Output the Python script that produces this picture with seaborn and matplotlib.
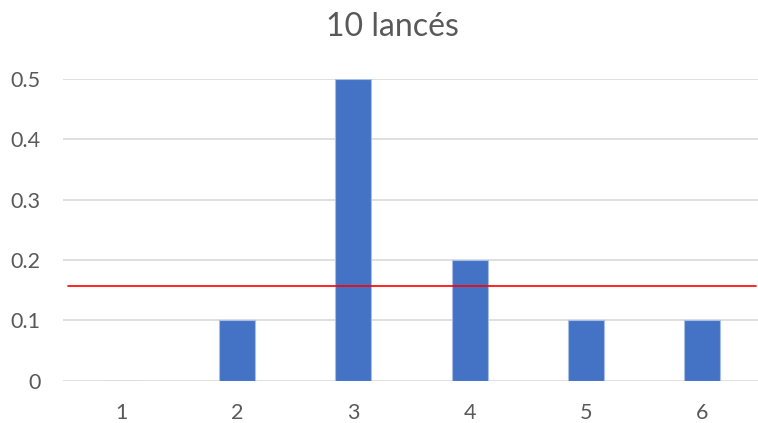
import matplotlib
matplotlib.use("Agg")
import matplotlib.pyplot as plt
import seaborn as sns
import pandas as pd

# Relative frequency of each die face after 10 throws
faces = ["1", "2", "3", "4", "5", "6"]
frequencies = [0.0, 0.1, 0.5, 0.2, 0.1, 0.1]
reference_level = 0.157
title = "10 lancés"
y_ticks = [0, 0.1, 0.2, 0.3, 0.4, 0.5]
y_tick_labels = ["0", "0.1", "0.2", "0.3", "0.4", "0.5"]

df = pd.DataFrame({"face": faces, "freq": frequencies})

sns.set_theme(style="white")
plt.rcParams["font.family"] = ["Lato", "DejaVu Sans"]

text_color = "#595959"
grid_color = "#D9D9D9"
bar_color = "#4472C4"

fig = plt.figure(figsize=(7.58, 4.23), dpi=100)
ax = fig.add_axes([63 / 758, 42.5 / 423, 697 / 758, 301.5 / 423])

sns.barplot(data=df, x="face", y="freq", order=faces, color=bar_color,
            width=0.31, saturation=1, edgecolor="#A9BEE6", linewidth=0.8,
            ax=ax, zorder=3)

ax.axhline(reference_level, xmin=0.007, xmax=0.994, color="#FF0000",
           linewidth=1.2, zorder=4)

ax.set_xlim(-0.5, len(faces) - 0.5)
ax.set_ylim(0, 0.5)
ax.set_yticks(y_ticks)
ax.set_yticklabels(y_tick_labels)
ax.yaxis.grid(True, color=grid_color, linewidth=1.2, zorder=0)
ax.xaxis.grid(False)
ax.set_axisbelow(True)
for side in ["top", "right", "left", "bottom"]:
    ax.spines[side].set_visible(False)
ax.tick_params(axis="both", length=0, labelsize=15.5, labelcolor=text_color)
ax.tick_params(axis="y", pad=16)
ax.tick_params(axis="x", pad=16)
ax.set_xlabel("")
ax.set_ylabel("")

fig.text(392 / 758, 1 - 27 / 423, title, ha="center", va="center",
         fontsize=23, color=text_color)

fig.savefig("out.png", dpi=100)
